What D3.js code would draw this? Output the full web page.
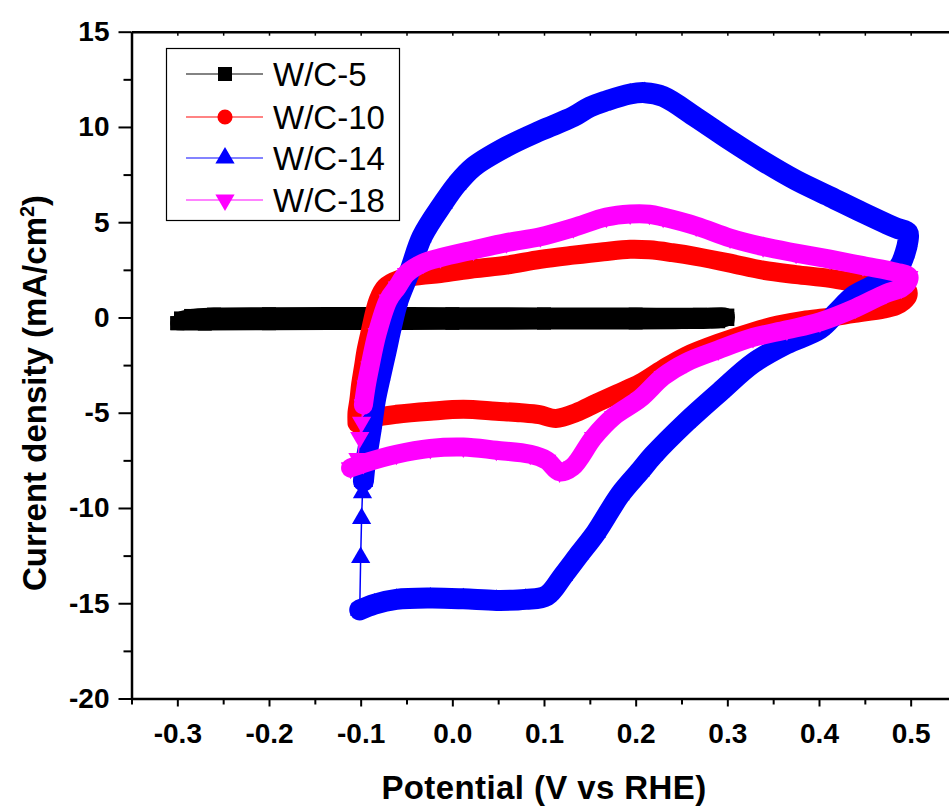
<!DOCTYPE html>
<html>
<head>
<meta charset="utf-8">
<script src="https://cdn.jsdelivr.net/npm/d3@7"></script>
<style>
body { margin: 0; background: #fff; }
svg { display: block; font-family: "Liberation Sans", Arial, sans-serif; }
</style>
</head>
<body>
<div id="chart"></div>
<script>
// values: [potential V vs RHE, current density mA/cm2]
var seriesNames = ["W/C-5", "W/C-10", "W/C-14", "W/C-18"];
var seriesColors = ["#000000", "#ff0000", "#0000ff", "#ff00ff"];

var w5 = [[-0.300,-0.30],[-0.296,-0.05],[-0.285,0.08],[-0.26,0.15],[-0.20,0.17],[-0.10,0.18],[0.00,0.17],
  [0.10,0.16],[0.20,0.15],[0.27,0.14],[0.300,0.10],[0.300,-0.08],[0.29,-0.20],[0.25,-0.24],[0.20,-0.26],
  [0.10,-0.27],[0.00,-0.28],[-0.10,-0.29],[-0.20,-0.30],[-0.27,-0.32],[-0.300,-0.30]];

var w10 = [[-0.104,-5.55],[-0.104,-5.0],[-0.102,-4.35],[-0.100,-3.5],[-0.097,-2.6],[-0.094,-1.7],[-0.090,-0.83],
  [-0.081,0.91],[-0.073,1.6],[-0.058,2.0],[-0.035,2.2],[-0.013,2.3],[0.023,2.55],[0.059,2.75],[0.096,3.05],
  [0.132,3.27],[0.165,3.45],[0.194,3.58],[0.215,3.55],[0.240,3.4],[0.266,3.2],[0.303,2.85],[0.339,2.48],
  [0.375,2.25],[0.412,2.05],[0.448,1.75],[0.480,1.55],[0.496,1.43],
  [0.497,1.15],[0.492,0.85],[0.484,0.62],[0.471,0.45],[0.437,0.20],[0.410,0.00],[0.383,-0.15],[0.355,-0.40],
  [0.328,-0.75],[0.290,-1.35],[0.255,-2.02],[0.230,-2.7],[0.205,-3.45],[0.180,-4.0],[0.157,-4.5],[0.135,-5.0],
  [0.113,-5.3],[0.095,-5.1],[0.075,-5.0],[0.048,-4.92],[0.012,-4.82],[-0.024,-4.92],[-0.061,-5.08],
  [-0.086,-5.27],[-0.104,-5.55]];

var w14 = [[-0.097,-8.6],[-0.095,-7.7],[-0.092,-6.9],[-0.088,-5.7],[-0.084,-4.35],[-0.078,-3.0],[-0.072,-1.73],
  [-0.066,-0.4],[-0.059,0.9],[-0.046,2.49],[-0.033,4.24],[-0.010,6.0],[0.005,7.0],[0.023,7.9],[0.059,8.96],
  [0.096,9.8],[0.132,10.54],[0.150,11.05],[0.168,11.37],[0.194,11.73],[0.210,11.8],[0.230,11.6],[0.266,10.5],
  [0.303,9.3],[0.339,8.2],[0.375,7.2],[0.412,6.34],[0.448,5.5],[0.484,4.7],[0.497,4.45],
  [0.497,4.0],[0.494,3.4],[0.488,2.7],[0.475,2.1],[0.456,1.6],[0.437,1.1],[0.420,0.3],[0.401,-0.6],
  [0.364,-1.4],[0.328,-2.4],[0.292,-3.9],[0.255,-5.5],[0.219,-7.24],[0.205,-8.05],[0.183,-9.3],[0.157,-11.27],
  [0.139,-12.4],[0.121,-13.54],[0.103,-14.6],[0.080,-14.8],[0.048,-14.85],[0.012,-14.77],[-0.024,-14.73],
  [-0.061,-14.8],[-0.085,-15.05],[-0.101,-15.35]];
// fast rise at the -0.1 V vertex, only a few points
var w14Jump = [[-0.101,-15.35],[-0.100,-12.6],[-0.099,-10.55],[-0.098,-9.2],[-0.097,-8.6]];

var w18 = [[-0.097,-4.6],[-0.094,-3.6],[-0.090,-2.6],[-0.082,-0.84],[-0.070,0.91],[-0.060,1.6],[-0.050,2.3],
  [-0.032,2.85],[-0.013,3.14],[0.023,3.54],[0.059,3.93],[0.096,4.24],[0.132,4.72],[0.168,5.27],[0.194,5.43],
  [0.215,5.42],[0.230,5.27],[0.266,4.8],[0.303,4.17],[0.339,3.72],[0.375,3.38],[0.412,3.06],[0.448,2.72],
  [0.484,2.38],[0.498,2.15],
  [0.496,1.8],[0.490,1.55],[0.473,1.26],[0.440,0.5],[0.401,-0.23],[0.365,-0.65],[0.328,-1.05],[0.290,-1.7],
  [0.255,-2.36],[0.230,-3.1],[0.205,-4.25],[0.176,-5.2],[0.154,-6.3],[0.131,-7.85],[0.117,-8.1],[0.103,-7.5],
  [0.085,-7.18],[0.048,-6.97],[0.012,-6.8],[-0.024,-6.87],[-0.061,-7.18],[-0.097,-7.66],[-0.111,-7.9]];
var w18Jump = [[-0.111,-7.9],[-0.103,-7.4],[-0.101,-6.3],[-0.099,-5.5],[-0.097,-4.6]];

var xTicks = [-0.3, -0.2, -0.1, 0.0, 0.1, 0.2, 0.3, 0.4, 0.5];
var xMinor = [-0.35, -0.25, -0.15, -0.05, 0.05, 0.15, 0.25, 0.35, 0.45, 0.55];
var yTicks = [-20, -15, -10, -5, 0, 5, 10, 15];
var yMinor = [-17.5, -12.5, -7.5, -2.5, 2.5, 7.5, 12.5];

var width = 949, height = 811;
var font = "'Liberation Sans', Arial, sans-serif";

var svg = d3.select("#chart").append("svg")
    .attr("width", width)
    .attr("height", height);

var x = d3.scaleLinear().domain([-0.35, 0.55]).range([131.5, 956.5]);
var y = d3.scaleLinear().domain([-20, 15]).range([698.5, 31.7]);

var line = d3.line()
    .x(function(d) { return x(d[0]); })
    .y(function(d) { return y(d[1]); })
    .curve(d3.curveCatmullRom.alpha(0.5));

var symbols = [
    d3.symbol().type(d3.symbolSquare).size(196),
    d3.symbol().type(d3.symbolCircle).size(180),
    d3.symbol().type(d3.symbolTriangle).size(160),
    d3.symbol().type(d3.symbolTriangle).size(160)
];
var rotations = [0, 0, 0, 180];
var bandWidths = [14, 19, 21, 19];

var loops = [w5, w10, w14, w18];
var jumps = [null, null, w14Jump, w18Jump];

var plot = svg.append("g");

loops.forEach(function(pts, i) {
    var g = plot.append("g");
    // dense markers overlap into a thick band
    g.append("path")
        .attr("d", line(pts))
        .attr("fill", "none")
        .attr("stroke", seriesColors[i])
        .attr("stroke-width", bandWidths[i])
        .attr("stroke-linejoin", "round")
        .attr("stroke-linecap", "round");
    if (jumps[i]) {
        g.append("path")
            .attr("d", d3.line().x(function(d) { return x(d[0]); }).y(function(d) { return y(d[1]); })(jumps[i]))
            .attr("fill", "none")
            .attr("stroke", seriesColors[i])
            .attr("stroke-width", 1.5);
    }
    var all = jumps[i] ? pts.concat(jumps[i]) : pts;
    g.selectAll(".m")
        .data(all)
        .enter().append("path")
        .attr("d", symbols[i])
        .attr("fill", seriesColors[i])
        .attr("transform", function(d) {
            return "translate(" + x(d[0]) + "," + y(d[1]) + ") rotate(" + rotations[i] + ")";
        });
});

// axes
function styleAxis(g, fs) {
    g.selectAll(".domain").attr("stroke", "#000").attr("stroke-width", 2.5);
    g.selectAll(".tick line").attr("stroke", "#000").attr("stroke-width", 2);
    g.selectAll(".tick text")
        .attr("fill", "#000")
        .style("font-family", font)
        .style("font-weight", "bold")
        .style("font-size", fs + "px");
}

var bottomAxis = svg.append("g")
    .attr("transform", "translate(0," + y(-20) + ")")
    .call(d3.axisBottom(x).tickValues(xTicks).tickSize(8).tickSizeOuter(0).tickPadding(17)
        .tickFormat(function(d) { return d.toFixed(1); }));
styleAxis(bottomAxis, 28);

var bottomMinor = svg.append("g")
    .attr("transform", "translate(0," + y(-20) + ")")
    .call(d3.axisBottom(x).tickValues(xMinor).tickSize(6).tickFormat(""));
bottomMinor.select(".domain").remove();
styleAxis(bottomMinor, 28);

var topAxis = svg.append("g")
    .attr("transform", "translate(0," + y(15) + ")")
    .call(d3.axisBottom(x).tickValues(xTicks.concat(xMinor)).tickSize(4).tickSizeOuter(0).tickFormat(""));
styleAxis(topAxis, 28);
topAxis.selectAll(".tick line").attr("stroke-width", 1.5);

var leftAxis = svg.append("g")
    .attr("transform", "translate(" + x(-0.35) + ",0)")
    .call(d3.axisLeft(y).tickValues(yTicks).tickSize(13).tickSizeOuter(0).tickPadding(9)
        .tickFormat(function(d) { return String(d); }));
styleAxis(leftAxis, 28);

var leftMinor = svg.append("g")
    .attr("transform", "translate(" + x(-0.35) + ",0)")
    .call(d3.axisLeft(y).tickValues(yMinor).tickSize(8).tickFormat(""));
leftMinor.select(".domain").remove();
styleAxis(leftMinor, 28);

// axis titles
svg.append("text")
    .attr("x", 544)
    .attr("y", 799)
    .attr("text-anchor", "middle")
    .style("font-family", font)
    .style("font-weight", "bold")
    .style("font-size", "33px")
    .style("letter-spacing", "0.4px")
    .text("Potential (V vs RHE)");

var yTitle = svg.append("text")
    .attr("transform", "translate(46,393) rotate(-90)")
    .attr("text-anchor", "middle")
    .style("font-family", font)
    .style("font-weight", "bold")
    .style("font-size", "33px");
yTitle.append("tspan").text("Current density (mA/cm");
yTitle.append("tspan").attr("dy", -12).style("font-size", "20px").text("2");
yTitle.append("tspan").attr("dy", 12).text(")");

// legend
var legend = svg.append("g");
legend.append("rect")
    .attr("x", 166.5).attr("y", 48.5)
    .attr("width", 233).attr("height", 172)
    .attr("fill", "#fff")
    .attr("stroke", "#000")
    .attr("stroke-width", 1.2);

var legendRows = [74, 117, 158, 200];
seriesNames.forEach(function(name, i) {
    var cy = legendRows[i];
    legend.append("line")
        .attr("x1", 186).attr("x2", 263)
        .attr("y1", cy).attr("y2", cy)
        .attr("stroke", seriesColors[i])
        .attr("stroke-opacity", 0.65)
        .attr("stroke-width", 1.5);
    legend.append("path")
        .attr("d", symbols[i])
        .attr("fill", seriesColors[i])
        .attr("transform", "translate(225," + cy + ") rotate(" + rotations[i] + ")");
    legend.append("text")
        .attr("x", 273)
        .attr("y", cy + 11.5)
        .style("font-family", font)
        .style("font-size", "33px")
        .text(name);
});
</script>
</body>
</html>
